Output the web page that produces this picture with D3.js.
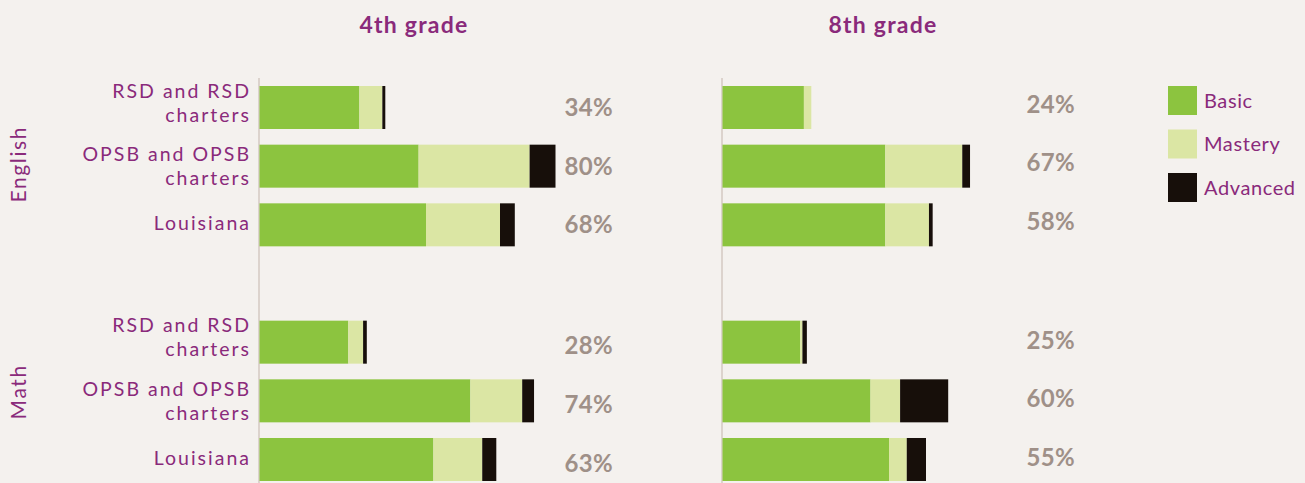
<!DOCTYPE html>
<html>
<head>
<meta charset="utf-8">
<script src="https://cdn.jsdelivr.net/npm/d3@7"></script>
<style>
  html, body { margin: 0; padding: 0; background: #f4f1ee; }
  svg { display: block; }
  text { font-family: Lato, "Open Sans", sans-serif; }
</style>
</head>
<body>
<svg id="chart" width="1305" height="483"></svg>
<script>
// ---- data ----
const grades = ["4th grade", "8th grade"];
const subjects = ["English", "Math"];
const schools = ["RSD and RSD charters", "OPSB and OPSB charters", "Louisiana"];
const levels = ["Basic", "Mastery", "Advanced"];

// order: English (RSD, OPSB, Louisiana), Math (RSD, OPSB, Louisiana)
const basic4    = [27, 43, 45, 24, 57, 47];
const mastery4  = [6.2, 30, 20, 4, 14, 13.2];
const advanced4 = [0.8, 7, 4, 1, 3.2, 3.8];
const total4    = ["34%", "80%", "68%", "28%", "74%", "63%"];

const basic8    = [22, 44, 44, 21, 40, 45];
const mastery8  = [2, 20.8, 11.8, 0.6, 8, 4.8];
const advanced8 = [0, 2.1, 1, 1.2, 13, 5.2];
const total8    = ["24%", "67%", "58%", "25%", "60%", "55%"];

// ---- styles ----
const colors = { Basic: "#8cc43f", Mastery: "#dbe6a4", Advanced: "#170f0a" };
const purple = "#8a2a7b";
const grey = "#9f9088";
const axisColor = "#dcd3cd";

const svg = d3.select("#chart");

// rows (with an empty separator row between subjects)
const rowKeys = [];
subjects.forEach((s, si) => {
  schools.forEach(c => rowKeys.push(s + "|" + c));
  if (si < subjects.length - 1) rowKeys.push("gap" + si);
});

const y = d3.scaleBand().domain(rowKeys).range([86, 481]).paddingInner(0.267).paddingOuter(0);
const x = d3.scaleLinear().domain([0, 100]).range([0, 370]);

const panelX = [259, 722];
const labelRight = [613, 1075];
const pctNudge = [[0, 3.5], [-3.5, -2]];
const titleX = [414, 883];

const gradeData = [
  { basic: basic4, mastery: mastery4, advanced: advanced4, total: total4 },
  { basic: basic8, mastery: mastery8, advanced: advanced8, total: total8 }
];

grades.forEach((g, gi) => {
  const gd = gradeData[gi];
  const panel = svg.append("g").attr("transform", `translate(${panelX[gi]},0)`);

  // axis line
  panel.append("line")
    .attr("x1", 0).attr("x2", 0)
    .attr("y1", 78).attr("y2", 483)
    .attr("stroke", axisColor).attr("stroke-width", 2);

  const rows = [];
  subjects.forEach((s, si) => schools.forEach((c, ci) => {
    const i = si * schools.length + ci;
    rows.push({ key: s + "|" + c, si, ci, vals: [gd.basic[i], gd.mastery[i], gd.advanced[i]], total: gd.total[i] });
  }));

  const stack = d3.stack().keys([0, 1, 2]).value((d, k) => d.vals[k]);
  const series = stack(rows);

  panel.selectAll("g.series").data(series).join("g")
    .attr("class", "series")
    .attr("fill", (d, i) => colors[levels[i]])
    .selectAll("rect").data(d => d).join("rect")
      .attr("x", d => x(d[0]) + 0.5)
      .attr("y", d => y(d.data.key))
      .attr("width", d => Math.max(0, x(d[1]) - x(d[0])))
      .attr("height", y.bandwidth());

  // total labels
  panel.selectAll("text.pct").data(rows).join("text")
    .attr("class", "pct")
    .attr("x", labelRight[gi] - panelX[gi])
    .attr("y", d => y(d.key) + y.bandwidth() / 2 + pctNudge[gi][d.si])
    .attr("dy", "0.36em")
    .attr("text-anchor", "end")
    .attr("fill", grey)
    .attr("font-size", 24)
    .attr("font-weight", 700)
    .attr("letter-spacing", 0.3)
    .text(d => d.total);

  // title
  svg.append("text")
    .attr("x", titleX[gi]).attr("y", 32.5)
    .attr("text-anchor", "middle")
    .attr("fill", purple)
    .attr("font-size", 23)
    .attr("font-weight", 700)
    .attr("letter-spacing", 1.2)
    .text(g);
});

// category labels (left)
const catNudge = [-5, 0, -2];
const catG = svg.append("g");
rowKeys.filter(k => !k.startsWith("gap")).forEach(k => {
  const [s, c] = k.split("|");
  const ci = schools.indexOf(c);
  const lines = c === "Louisiana" ? [c] : [c.replace(/ charters$/, ""), "charters"];
  const cy = y(k) + y.bandwidth() / 2 + catNudge[ci];
  const lh = 24;
  lines.forEach((ln, li) => {
    catG.append("text")
      .attr("text-anchor", "end")
      .attr("fill", purple)
      .attr("font-size", 19.5)
      .attr("letter-spacing", 2)
      .attr("x", 251)
      .attr("y", cy + (li - (lines.length - 1) / 2) * lh)
      .attr("dy", "0.36em")
      .text(ln);
  });
});

// subject labels (rotated)
subjects.forEach((s, si) => {
  const keys = schools.map(c => s + "|" + c);
  const top = y(keys[0]);
  const bot = y(keys[keys.length - 1]) + y.bandwidth();
  svg.append("text")
    .attr("transform", `translate(26,${(top + bot) / 2 - (si ? 9 : 2)}) rotate(-90)`)
    .attr("text-anchor", "middle")
    .attr("fill", purple)
    .attr("font-size", 21)
    .attr("letter-spacing", 1.6)
    .text(s);
});

// legend
const lg = svg.append("g").attr("transform", "translate(1168,86)");
levels.forEach((l, i) => {
  const gi = lg.append("g").attr("transform", `translate(0,${i * 43.5})`);
  gi.append("rect").attr("width", 29).attr("height", 29).attr("fill", colors[l]);
  gi.append("text")
    .attr("x", 36).attr("y", 14.5).attr("dy", "0.36em")
    .attr("fill", purple).attr("font-size", 20)
    .attr("letter-spacing", 0.6)
    .text(l);
});
</script>
</body>
</html>
